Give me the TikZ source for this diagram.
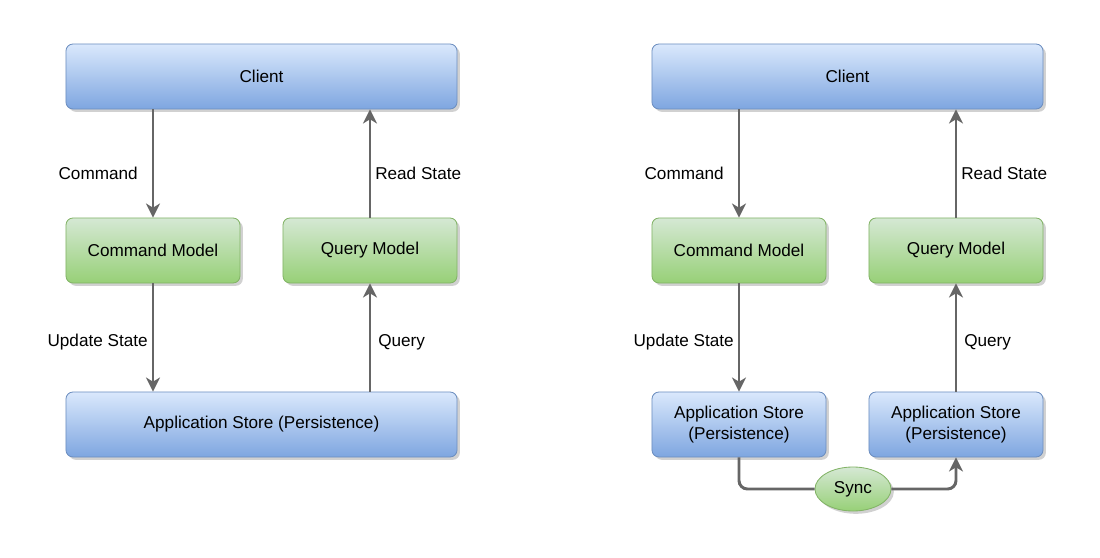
\documentclass[tikz,border=0pt]{standalone}
\usepackage{fontspec}
\setmainfont{Liberation Sans}
\usepackage{xcolor}
\usepackage{tikz}
\usetikzlibrary{arrows.meta, positioning, shapes.geometric, shadows}
\definecolor{blueTop}{HTML}{DAE8FC}
\definecolor{blueBot}{HTML}{7EA6E0}
\definecolor{blueLine}{HTML}{6C8EBF}
\definecolor{greenTop}{HTML}{D5E8D4}
\definecolor{greenBot}{HTML}{97D077}
\definecolor{greenLine}{HTML}{82B366}
\definecolor{flowGray}{HTML}{666666}
\tikzset{
  box/.style={rounded corners=5pt, minimum height=1.625cm, align=center,
    font=\fontsize{12.2}{14.6}\selectfont, draw, line width=0.6pt,
    drop shadow={shadow xshift=2pt, shadow yshift=-2pt, fill=black!30, opacity=0.6}},
  bluebox/.style={box, draw=blueLine, top color=blueTop, bottom color=blueBot},
  greenbox/.style={box, draw=greenLine, top color=greenTop, bottom color=greenBot},
  flow/.style={draw=flowGray, line width=2.1pt, -{Stealth[length=10pt, width=10pt, inset=3pt]}},
  flowlabel/.style={font=\fontsize{12.2}{14.6}\selectfont, inner sep=0pt}
}

\begin{document}
\begin{tikzpicture}[x=0.025cm, y=-0.025cm]
  \useasboundingbox (0,0) rectangle (1100,558);

  % left: single store
  \node[bluebox, minimum width=9.775cm] (client1) at (261.5,76.5) {Client};
  \node[greenbox, minimum width=4.35cm] (cmd1) at (153,250.5) {Command Model};
  \node[greenbox, minimum width=4.35cm] (qry1) at (370,250.5) {Query Model};
  \node[bluebox, minimum width=9.775cm] (store1) at (261.5,424.5) {Application Store (Persistence)};

  \draw[flow] (client1.south -| cmd1) -- (cmd1.north);
  \draw[flow] (qry1.north) -- (client1.south -| qry1);
  \draw[flow] (cmd1.south) -- (store1.north -| cmd1);
  \draw[flow] (store1.north -| qry1) -- (qry1.south);

  \node[flowlabel, anchor=east] (lcmd1) at (138,173) {Command};
  \node[flowlabel, anchor=west] (lread1) at (375,173) {Read State};
  \node[flowlabel, anchor=east] (lupd1) at (148,342) {Update State};
  \node[flowlabel, anchor=west] (lqry1) at (378,342) {Query};

  % right: two stores with sync
  \node[bluebox, minimum width=9.775cm] (client2) at (847.5,76.5) {Client};
  \node[greenbox, minimum width=4.35cm] (cmd2) at (739,250.5) {Command Model};
  \node[greenbox, minimum width=4.35cm] (qry2) at (956,250.5) {Query Model};
  \node[bluebox, minimum width=4.35cm] (wstore2) at (739,424.5) {Application Store\\(Persistence)};
  \node[bluebox, minimum width=4.35cm] (rstore2) at (956,424.5) {Application Store\\(Persistence)};
  \node[ellipse, greenbox, rounded corners=0pt, minimum width=1.9cm, minimum height=1.1cm, inner sep=0pt] (sync) at (853,489) {Sync};

  \draw[flow] (client2.south -| cmd2) -- (cmd2.north);
  \draw[flow] (qry2.north) -- (client2.south -| qry2);
  \draw[flow] (cmd2.south) -- (wstore2.north);
  \draw[flow] (rstore2.north) -- (qry2.south);
  \draw[flow, -, rounded corners=6pt] (wstore2.south) |- (sync.west);
  \draw[flow, rounded corners=6pt] (sync.east) -| (rstore2.south);

  \node[flowlabel, anchor=east] (lcmd2) at (724,173) {Command};
  \node[flowlabel, anchor=west] (lread2) at (961,173) {Read State};
  \node[flowlabel, anchor=east] (lupd2) at (734,342) {Update State};
  \node[flowlabel, anchor=west] (lqry2) at (964,342) {Query};
\end{tikzpicture}
\end{document}
